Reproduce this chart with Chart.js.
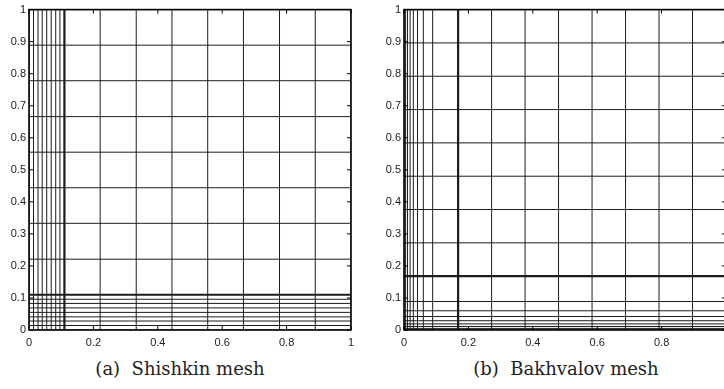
<!DOCTYPE html>
<html><head><meta charset="utf-8">
<script src="https://cdn.jsdelivr.net/npm/chart.js@4/dist/chart.umd.min.js"></script>
<style>
html,body{margin:0;padding:0;background:#fff;width:724px;height:389px;overflow:hidden;position:relative}
.wrap{position:absolute;top:0;width:362px;height:352px}
.cap{position:absolute;top:358px;width:300px;font-family:"DejaVu Serif","Liberation Serif","Times New Roman",serif;font-size:18px;color:#222;text-align:center;white-space:nowrap}
</style></head><body>
<div class="wrap" style="left:0"><canvas id="c1" width="362" height="352"></canvas></div>
<div class="wrap" style="left:375px"><canvas id="c2" width="362" height="352"></canvas></div>
<div class="cap" style="left:30px">(a)&nbsp; Shishkin mesh</div>
<div class="cap" style="left:416px">(b)&nbsp; Bakhvalov mesh</div>
<script>
// Mesh node positions (same 1D mesh in x and y)
const shishkinNodes = [0, 0.014, 0.028, 0.041, 0.055, 0.069, 0.083, 0.096, 0.11, 0.221, 0.333, 0.444, 0.555, 0.666, 0.778, 0.889, 1];
const shishkinTransition = 0.11;
const bakhvalovNodes = [0, 0.005, 0.011, 0.019, 0.029, 0.042, 0.060, 0.089, 0.168, 0.272, 0.376, 0.480, 0.584, 0.688, 0.792, 0.896, 1];
const bakhvalovTransition = 0.168;
// Tick values and labels
const xTickValues = [0, 0.2, 0.4, 0.6, 0.8, 1];
const xTickLabels = ['0', '0.2', '0.4', '0.6', '0.8', '1'];
const bakhvalovXTickValues = [0, 0.2, 0.4, 0.6, 0.8];
const bakhvalovXTickLabels = ['0', '0.2', '0.4', '0.6', '0.8'];
const yTickValues = [0, 0.1, 0.2, 0.3, 0.4, 0.5, 0.6, 0.7, 0.8, 0.9, 1];
const yTickLabels = ['0', '0.1', '0.2', '0.3', '0.4', '0.5', '0.6', '0.7', '0.8', '0.9', '1'];

function meshDatasets(nodes, transition) {
  const ds = [];
  nodes.forEach(v => {
    const thick = Math.abs(v - transition) < 1e-9;
    const style = {borderColor: '#1c1c1c', borderWidth: thick ? 2.2 : 1, showLine: true,
      pointRadius: 0, fill: false, tension: 0};
    ds.push(Object.assign({}, style, {data: [{x: v, y: 0}, {x: v, y: 1}]}));
    ds.push(Object.assign({}, style, {data: [{x: 0, y: v}, {x: 1, y: v}]}));
  });
  return ds;
}

const boxPlugin = {
  id: 'box',
  afterDatasetsDraw(chart) {
    const ctx = chart.ctx, a = chart.chartArea, x = chart.scales.x, y = chart.scales.y;
    ctx.save();
    ctx.strokeStyle = '#000';
    ctx.lineWidth = 1.6;
    ctx.strokeRect(a.left, a.top, a.right - a.left, a.bottom - a.top);
    ctx.lineWidth = 1;
    ctx.beginPath();
    x.ticks.forEach(t => {
      const px = x.getPixelForValue(t.value);
      ctx.moveTo(px, a.bottom); ctx.lineTo(px, a.bottom - 4);
      ctx.moveTo(px, a.top); ctx.lineTo(px, a.top + 4);
    });
    y.ticks.forEach(t => {
      const py = y.getPixelForValue(t.value);
      ctx.moveTo(a.left, py); ctx.lineTo(a.left + 4, py);
      ctx.moveTo(a.right, py); ctx.lineTo(a.right - 4, py);
    });
    ctx.stroke();
    ctx.restore();
  }
};

function makeChart(id, nodes, transition, xv, xl) {
  const tickFont = {family: '"Liberation Sans", Arial, sans-serif', size: 11};
  return new Chart(document.getElementById(id), {
    type: 'scatter',
    data: {datasets: meshDatasets(nodes, transition)},
    options: {
      responsive: false, animation: false, events: [],
      layout: {padding: {top: 8, right: 11, left: 0, bottom: 0}},
      plugins: {legend: {display: false}, tooltip: {enabled: false}, title: {display: false}},
      scales: {
        x: {
          type: 'linear', min: 0, max: 1,
          grid: {display: false, drawTicks: false}, border: {display: false},
          afterBuildTicks: s => { s.ticks = xv.map(v => ({value: v})); },
          ticks: {padding: 6, autoSkip: false, maxRotation: 0, font: tickFont, color: '#222',
            callback: (v, i) => xl[i]},
          afterFit: s => { s.height = 22; }
        },
        y: {
          type: 'linear', min: 0, max: 1,
          grid: {display: false, drawTicks: false}, border: {display: false},
          afterBuildTicks: s => { s.ticks = yTickValues.map(v => ({value: v})); },
          ticks: {padding: 3, autoSkip: false, font: tickFont, color: '#222',
            callback: (v, i) => yTickLabels[i]},
          afterFit: s => { s.width = 29; }
        }
      }
    },
    plugins: [boxPlugin]
  });
}

makeChart('c1', shishkinNodes, shishkinTransition, xTickValues, xTickLabels);
makeChart('c2', bakhvalovNodes, bakhvalovTransition, bakhvalovXTickValues, bakhvalovXTickLabels);
</script>
</body></html>
